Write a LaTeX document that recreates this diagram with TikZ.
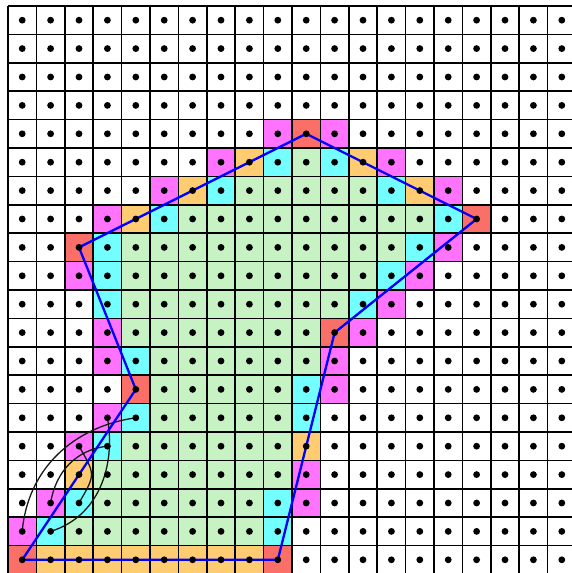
\documentclass[tikz,border=0pt]{standalone}
\definecolor{vertexred}{RGB}{250,112,104}
\definecolor{edgemag}{RGB}{255,115,255}
\definecolor{edgeorange}{RGB}{255,204,113}
\definecolor{edgecyan}{RGB}{115,255,255}
\definecolor{insidegreen}{RGB}{198,242,196}

\begin{document}
\begin{tikzpicture}[line width=0.8pt,
  cell/.style={fill=#1},
  gridline/.style={line width=1.7pt,black},
  hull/.style={line width=2.3pt,blue,line join=miter},
  arcline/.style={line width=1.3pt,black!90}]
\useasboundingbox (-0.782,-0.465) rectangle (19.324,19.711);
% ---- interior cells, one row at a time ----
\foreach \y/\a/\b in {14/10/10,13/8/12,12/6/14,11/4/13,10/4/12,9/4/11,8/4/10,
                      7/5/10,6/5/9,5/5/9,4/4/9,3/3/9,2/3/8,1/2/8}{
  \foreach \x in {\a,...,\b}{
    \fill[cell=insidegreen] (\x-0.5,\y-0.5) rectangle ++(1,1);
  }
}
% ---- boundary cells ----
\foreach \x/\y in {9/14,11/14,7/13,13/13,5/12,15/12,3/11,14/11,3/10,13/10,
                   3/9,12/9,4/7,10/6,4/5,10/5,3/4,2/2,9/2,1/1,9/1}{
  \fill[cell=edgecyan] (\x-0.5,\y-0.5) rectangle ++(1,1);
}
\foreach \x/\y in {8/14,12/14,6/13,14/13,4/12,10/4,2/3,
                   1/0,2/0,3/0,4/0,5/0,6/0,7/0,8/0}{
  \fill[cell=edgeorange] (\x-0.5,\y-0.5) rectangle ++(1,1);
}
\foreach \x/\y in {9/15,11/15,7/14,13/14,5/13,15/13,3/12,15/11,2/10,14/10,
                   13/9,3/8,12/8,3/7,11/7,11/6,3/5,2/4,10/3,1/2,10/2,0/1}{
  \fill[cell=edgemag] (\x-0.5,\y-0.5) rectangle ++(1,1);
}
\foreach \x/\y in {0/0,4/6,2/11,10/15,16/12,11/8,9/0}{
  \fill[cell=vertexred] (\x-0.5,\y-0.5) rectangle ++(1,1);
}
% ---- lattice lines ----
\foreach \i in {0,...,20}{
  \draw[gridline] (\i-0.5,-0.5) -- (\i-0.5,19.5);
  \draw[gridline] (-0.5,\i-0.5) -- (19.5,\i-0.5);
}
% ---- arcs near the lower left corner ----
\draw[arcline] (0,1) to[out=85,in=188] (4,5);
\draw[arcline] (1,1) to[out=17,in=-80] (3,5);
\draw[arcline] (1,2) to[out=81,in=186] (3,4);
\draw[arcline] (2,4) to[out=-60,in=60,looseness=1.5] (2,2);
% ---- polygon ----
\coordinate (v1) at (0,0);
\coordinate (v2) at (4,6);
\coordinate (v3) at (2,11);
\coordinate (v4) at (10,15);
\coordinate (v5) at (16,12);
\coordinate (v6) at (11,8);
\coordinate (v7) at (9,0);
\draw[hull] (v1) -- (v2) -- (v3) -- (v4) -- (v5) -- (v6) -- (v7) -- cycle;
% ---- lattice points ----
\foreach \x in {0,...,19}{\foreach \y in {0,...,19}{
  \fill (\x,\y) circle (0.12);
}}
\end{tikzpicture}
\end{document}
